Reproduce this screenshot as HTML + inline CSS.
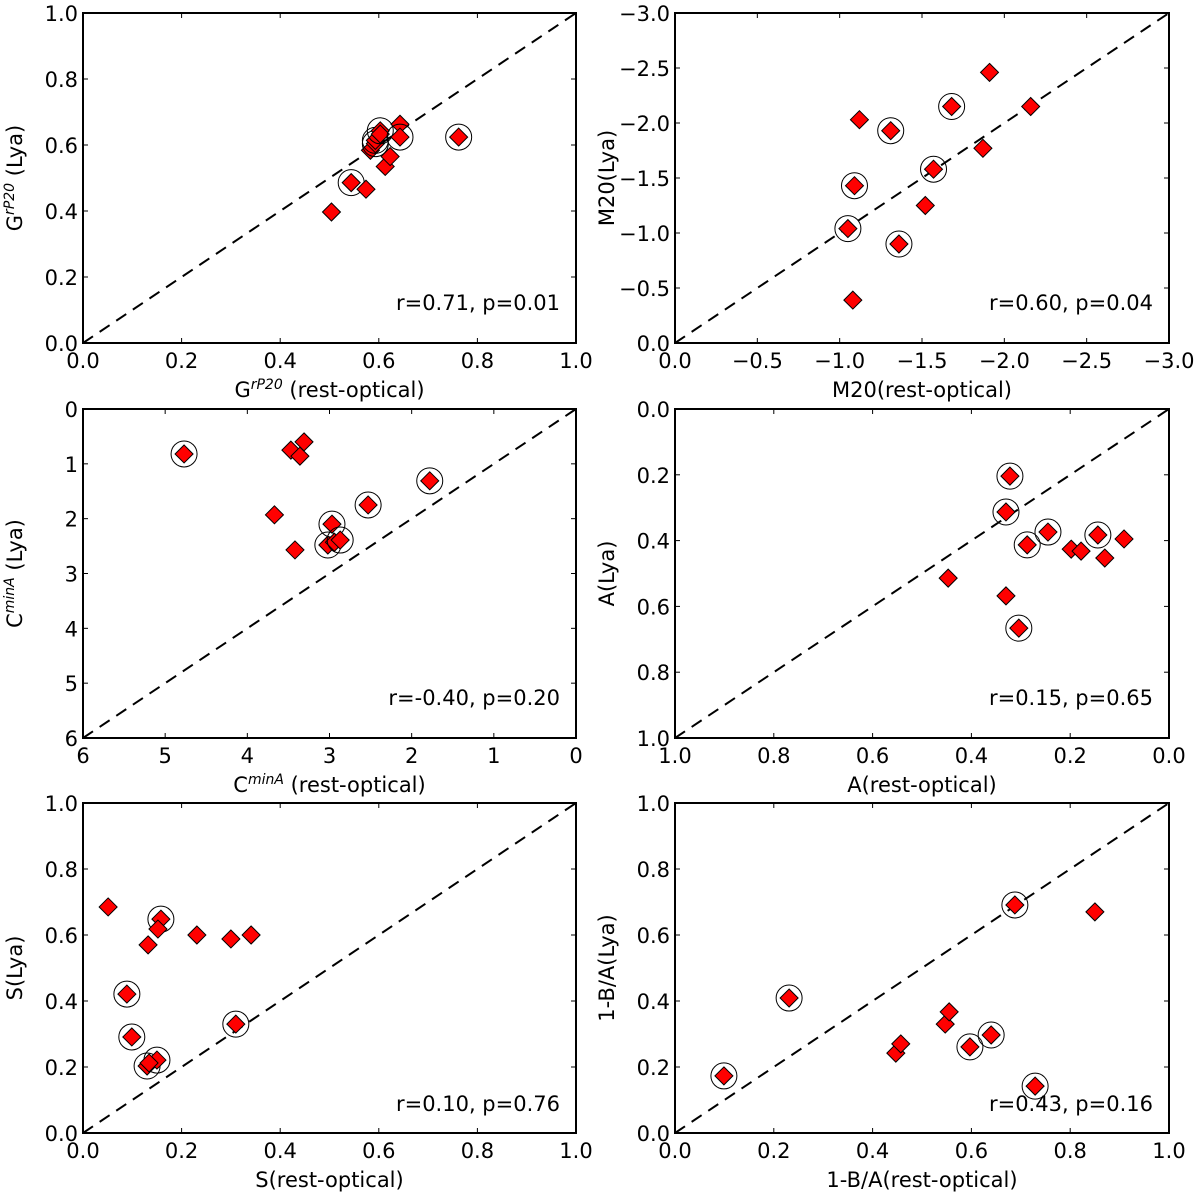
<!DOCTYPE html>
<html><head><meta charset="utf-8"><style>
body{margin:0;background:#fff}
svg{display:block;font-family:"DejaVu Sans","Liberation Sans",sans-serif}
</style></head><body>
<svg id="fig" width="1200" height="1193" viewBox="0 0 1200 1193"></svg>
<script>
// ---- data ----
const g_x=[0.504,0.544,0.574,0.583,0.593,0.593,0.603,0.603,0.613,0.623,0.643,0.643,0.762];
const g_y=[0.397,0.486,0.466,0.584,0.604,0.614,0.643,0.633,0.535,0.565,0.663,0.624,0.624];
const g_c=[0,1,0,0,1,1,1,0,0,0,0,1,1];
const m_x=[-1.05,-1.09,-1.12,-1.08,-1.31,-1.36,-1.52,-1.57,-1.68,-1.87,-1.91,-2.16];
const m_y=[-1.04,-1.43,-2.03,-0.39,-1.93,-0.90,-1.25,-1.58,-2.15,-1.77,-2.46,-2.15];
const m_c=[1,1,0,0,1,1,0,1,1,0,0,0];
const c_x=[4.77,3.67,3.47,3.36,3.31,3.42,2.97,3.02,2.94,2.87,2.53,1.78];
const c_y=[0.82,1.93,0.75,0.86,0.60,2.57,2.10,2.48,2.43,2.39,1.75,1.31];
const c_c=[1,0,0,0,0,0,1,1,0,1,1,1];
const a_x=[0.447,0.322,0.330,0.330,0.304,0.287,0.245,0.198,0.178,0.144,0.130,0.091];
const a_y=[0.514,0.204,0.313,0.568,0.666,0.413,0.374,0.426,0.432,0.383,0.453,0.395];
const a_c=[0,1,1,0,1,1,1,0,0,1,0,0];
const s_x=[0.051,0.158,0.152,0.132,0.231,0.300,0.341,0.089,0.099,0.130,0.150,0.134,0.310];
const s_y=[0.685,0.648,0.618,0.570,0.600,0.588,0.600,0.421,0.291,0.203,0.221,0.212,0.330];
const s_c=[0,1,0,0,0,0,0,1,1,1,1,0,1];
const b_x=[0.099,0.231,0.447,0.457,0.547,0.555,0.597,0.640,0.688,0.729,0.850];
const b_y=[0.173,0.409,0.242,0.270,0.330,0.367,0.261,0.297,0.691,0.142,0.670];
const b_c=[1,1,0,0,0,0,1,1,1,1,0];

const ticks01=["0.0","0.2","0.4","0.6","0.8","1.0"];
const tickM=["0.0","−0.5","−1.0","−1.5","−2.0","−2.5","−3.0"];
const tickC=["0","1","2","3","4","5","6"];
const tickCx=["6","5","4","3","2","1","0"];
const tickA=["0.0","0.2","0.4","0.6","0.8","1.0"];
const tickAx=["1.0","0.8","0.6","0.4","0.2","0.0"];

const NS="http://www.w3.org/2000/svg";
const svg=document.getElementById('fig');
function el(t,a,p){const e=document.createElementNS(NS,t);for(const k in a)e.setAttribute(k,a[k]);(p||svg).appendChild(e);return e;}

const panels=[
 {L:83,R:576,T:13,B:343,ty:33,x0:0,x1:1,y0:0,y1:1,xt:[0,.2,.4,.6,.8,1],xl:ticks01,yt:[0,.2,.4,.6,.8,1],yl:ticks01,xs:g_x,ys:g_y,cs:g_c,txt:"r=0.71, p=0.01",xlab:["G","rP20"," (rest-optical)"],ylab:["G","rP20"," (Lya)"],name:"gini"},
 {L:675,R:1169,T:13,B:343,ty:33,x0:0,x1:-3,y0:0,y1:-3,xt:[0,-.5,-1,-1.5,-2,-2.5,-3],xl:tickM,yt:[0,-.5,-1,-1.5,-2,-2.5,-3],yl:tickM,xs:m_x,ys:m_y,cs:m_c,txt:"r=0.60, p=0.04",xlab:["M20(rest-optical)"],ylab:["M20(Lya)"],name:"m20"},
 {L:83,R:576,T:409,B:738,ty:33,x0:6,x1:0,y0:6,y1:0,xt:[6,5,4,3,2,1,0],xl:tickCx,yt:[0,1,2,3,4,5,6],yl:tickC,xs:c_x,ys:c_y,cs:c_c,txt:"r=-0.40, p=0.20",xlab:["C","minA"," (rest-optical)"],ylab:["C","minA"," (Lya)"],name:"concentration"},
 {L:675,R:1169,T:409,B:738,ty:33,x0:1,x1:0,y0:1,y1:0,xt:[1,.8,.6,.4,.2,0],xl:tickAx,yt:[0,.2,.4,.6,.8,1],yl:tickA,xs:a_x,ys:a_y,cs:a_c,txt:"r=0.15, p=0.65",xlab:["A(rest-optical)"],ylab:["A(Lya)"],name:"asymmetry"},
 {L:83,R:576,T:803,B:1133,ty:22,x0:0,x1:1,y0:0,y1:1,xt:[0,.2,.4,.6,.8,1],xl:ticks01,yt:[0,.2,.4,.6,.8,1],yl:ticks01,xs:s_x,ys:s_y,cs:s_c,txt:"r=0.10, p=0.76",xlab:["S(rest-optical)"],ylab:["S(Lya)"],name:"smoothness"},
 {L:675,R:1169,T:803,B:1133,ty:22,x0:0,x1:1,y0:0,y1:1,xt:[0,.2,.4,.6,.8,1],xl:ticks01,yt:[0,.2,.4,.6,.8,1],yl:ticks01,xs:b_x,ys:b_y,cs:b_c,txt:"r=0.43, p=0.16",xlab:["1-B/A(rest-optical)"],ylab:["1-B/A(Lya)"],name:"ellipticity"}
];

function addLabel(g,parts,x,y,rot,name){
  const t=el('text',{x:x,y:y,'font-size':21,'text-anchor':'middle',fill:'#000'},g);
  if(rot)t.setAttribute('transform','rotate(-90 '+x+' '+y+')');
  
  
  if(parts.length===1){t.textContent=parts[0];return;}
  const a=el('tspan',{},t);a.textContent=parts[0];
  const b=el('tspan',{dy:-8,'font-size':14,'font-style':'italic'},t);b.textContent=parts[1];
  const c=el('tspan',{dy:8},t);c.textContent=parts[2];
}

panels.forEach(p=>{
  const g=el('g',{});
  
  
  const sx=v=>p.L+(v-p.x0)/(p.x1-p.x0)*(p.R-p.L);
  const sy=v=>p.B-(v-p.y0)/(p.y1-p.y0)*(p.B-p.T);
  const d=el('line',{x1:p.L,y1:p.B,x2:p.R,y2:p.T,stroke:'#000','stroke-width':2,'stroke-dasharray':'12,8'},g);
  
  
  p.xs.forEach((xv,i)=>{
    const X=sx(xv),Y=sy(p.ys[i]);
    if(p.cs[i]){
      const c=el('circle',{cx:X,cy:Y,r:13,fill:'none',stroke:'#000','stroke-width':1},g);
      
      
    }
    const m=el('polygon',{points:`${X},${Y-9} ${X+9},${Y} ${X},${Y+9} ${X-9},${Y}`,fill:'#f00',stroke:'#000','stroke-width':1},g);
    
    
  });
  const f=el('rect',{x:p.L,y:p.T,width:p.R-p.L,height:p.B-p.T,fill:'none',stroke:'#000','stroke-width':2},g);
  
  
  p.xt.forEach((v,i)=>{
    const X=sx(v);
    el('line',{x1:X,y1:p.B,x2:X,y2:p.B-5,stroke:'#000','stroke-width':1},g);
    el('line',{x1:X,y1:p.T,x2:X,y2:p.T+5,stroke:'#000','stroke-width':1},g);
    const t=el('text',{x:X,y:p.B+25,'font-size':21,'text-anchor':'middle'},g);
    t.textContent=p.xl[i];
    
    
  });
  p.yt.forEach((v,i)=>{
    const Y=sy(v);
    el('line',{x1:p.L,y1:Y,x2:p.L+5,y2:Y,stroke:'#000','stroke-width':1},g);
    el('line',{x1:p.R,y1:Y,x2:p.R-5,y2:Y,stroke:'#000','stroke-width':1},g);
    const t=el('text',{x:p.L-5,y:Y+8,'font-size':21,'text-anchor':'end'},g);
    t.textContent=p.yl[i];
    
    
  });
  const s=el('text',{x:p.R-16,y:p.B-p.ty,'font-size':21,'text-anchor':'end'},g);
  s.textContent=p.txt;
  
  
  addLabel(g,p.xlab,(p.L+p.R)/2,p.B+54,false,'x-axis-title');
  addLabel(g,p.ylab,p.L-61,(p.T+p.B)/2,true,'y-axis-title');
});
</script>
</body></html>
